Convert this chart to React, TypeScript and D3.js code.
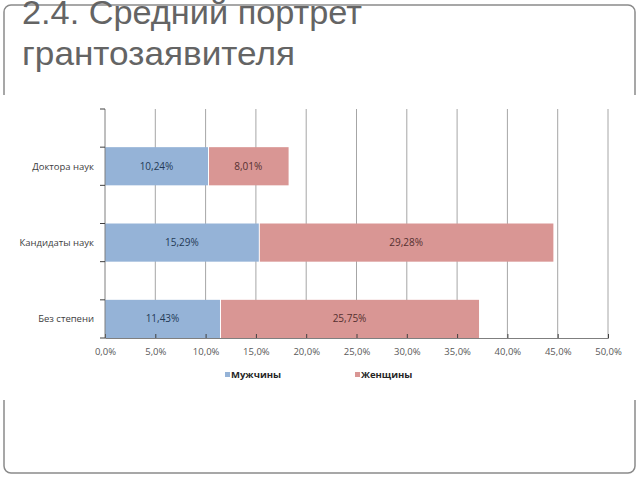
import React, { useEffect, useRef } from 'react';
import * as d3 from 'd3';

const categories = ['Доктора наук', 'Кандидаты наук', 'Без степени'];
const men = [10.24, 15.29, 11.43];
const women = [8.01, 29.28, 25.75];
const seriesNames = ['Мужчины', 'Женщины'];
const xTicks = [0, 5, 10, 15, 20, 25, 30, 35, 40, 45, 50];
const titleLines = ['2.4. Средний портрет', 'грантозаявителя'];

const fmt = (v: number) => v.toFixed(2).replace('.', ',') + '%';
const fmtTick = (v: number) => v.toFixed(1).replace('.', ',') + '%';

const App = () => {
    const ref = useRef<SVGSVGElement>(null);

    useEffect(() => {
        if (!ref.current) return;
        const svg = d3.select(ref.current);
        svg.selectAll('*').remove();

        const W = 640;
        const chartFont = '"Open Sans", "Liberation Sans", sans-serif';

        // slide frame
        svg.append('rect')
            .attr('x', 4).attr('y', 5)
            .attr('width', 631).attr('height', 468)
            .attr('rx', 7)
            .attr('fill', 'none')
            .attr('stroke', '#8a8a8a')
            .attr('stroke-width', 1.5);

        // title (top line is cut by the slide edge, like the original)
        const title = svg.append('text')
            .attr('font-family', '"Liberation Sans", Arial, sans-serif')
            .attr('font-size', 34)
            .attr('fill', '#646464');
        const titleY = [23.5, 64.5];
        const titleW = [340, 273];
        titleLines.forEach((t, i) => {
            title.append('tspan')
                .attr('x', 22).attr('y', titleY[i])
                .attr('textLength', titleW[i])
                .attr('lengthAdjust', 'spacingAndGlyphs')
                .text(t);
        });

        // chart image area (white, covers the frame)
        svg.append('rect')
            .attr('x', 0).attr('y', 95)
            .attr('width', W).attr('height', 305)
            .attr('fill', '#fff');

        const x = d3.scaleLinear().domain([0, 50]).range([105, 608]);
        const y = d3.scaleBand<string>()
            .domain(categories)
            .range([109, 338])
            .paddingInner(0.5)
            .paddingOuter(0.25)
            .align(1);

        // gridlines
        svg.append('g')
            .selectAll('line')
            .data(xTicks.slice(1))
            .enter().append('line')
            .attr('x1', d => x(d)).attr('x2', d => x(d))
            .attr('y1', 109).attr('y2', 338)
            .attr('stroke', '#a6a6a6')
            .attr('stroke-width', 1);

        // bars
        const rows = categories.map((c, i) => ({ c, m: men[i], w: women[i] }));
        const g = svg.append('g');
        g.selectAll('.men')
            .data(rows)
            .enter().append('rect')
            .attr('x', x(0))
            .attr('y', d => y(d.c)!)
            .attr('width', d => x(d.m) - x(0))
            .attr('height', y.bandwidth())
            .attr('fill', '#95b3d7');
        g.selectAll('.women')
            .data(rows)
            .enter().append('rect')
            .attr('x', d => x(d.m) + 1)
            .attr('y', d => y(d.c)!)
            .attr('width', d => x(d.m + d.w) - x(d.m) - 1)
            .attr('height', y.bandwidth())
            .attr('fill', '#d99694');

        // bar labels
        g.selectAll('.lm')
            .data(rows)
            .enter().append('text')
            .attr('x', d => (x(0) + x(d.m)) / 2)
            .attr('y', d => y(d.c)! + y.bandwidth() / 2)
            .attr('dy', '0.35em')
            .attr('text-anchor', 'middle')
            .attr('font-family', chartFont)
            .attr('font-size', 10)
            .attr('fill', '#243a56')
            .text(d => fmt(d.m));
        g.selectAll('.lw')
            .data(rows)
            .enter().append('text')
            .attr('x', d => (x(d.m) + x(d.m + d.w)) / 2)
            .attr('y', d => y(d.c)! + y.bandwidth() / 2)
            .attr('dy', '0.35em')
            .attr('text-anchor', 'middle')
            .attr('font-family', chartFont)
            .attr('font-size', 10)
            .attr('fill', '#553030')
            .text(d => fmt(d.w));

        // x axis
        const xAxis = svg.append('g')
            .attr('transform', 'translate(0,338)')
            .call(d3.axisBottom(x).tickValues(xTicks).tickSize(-4).tickPadding(10).tickFormat(d => fmtTick(+d)));
        xAxis.select('.domain').attr('stroke', '#7f7f7f');
        xAxis.selectAll('.tick line').attr('stroke', '#404040');
        xAxis.selectAll('text')
            .attr('font-family', chartFont)
            .attr('font-size', 9.5)
            .attr('fill', '#595959');

        // y axis
        const yLine = svg.append('g');
        yLine.append('line')
            .attr('x1', 105).attr('x2', 105)
            .attr('y1', 109).attr('y2', 338)
            .attr('stroke', '#7f7f7f');
        const yTickPos = [109, ...categories.flatMap(c => [y(c)!, y(c)! + y.bandwidth()])];
        yLine.selectAll('.yt')
            .data(yTickPos)
            .enter().append('line')
            .attr('x1', 100).attr('x2', 105)
            .attr('y1', d => d).attr('y2', d => d)
            .attr('stroke', '#404040');
        yLine.selectAll('.yl')
            .data(categories)
            .enter().append('text')
            .attr('x', 94)
            .attr('y', d => y(d)! + y.bandwidth() / 2)
            .attr('dy', '0.35em')
            .attr('text-anchor', 'end')
            .attr('font-family', chartFont)
            .attr('font-size', 9.5)
            .attr('fill', '#404040')
            .text(d => d);

        // legend
        const legendColors = ['#95b3d7', '#d99694'];
        const legendX = [225, 355];
        const lg = svg.append('g');
        seriesNames.forEach((name, i) => {
            lg.append('rect')
                .attr('x', legendX[i]).attr('y', 372)
                .attr('width', 5).attr('height', 5)
                .attr('fill', legendColors[i]);
            lg.append('text')
                .attr('x', legendX[i] + 6).attr('y', 375)
                .attr('dy', '0.35em')
                .attr('font-family', chartFont)
                .attr('font-size', 9.5)
                .attr('font-weight', 'bold')
                .attr('fill', '#262626')
                .text(name);
        });
    }, []);

    return <svg ref={ref} width={640} height={480} style={{ position: 'absolute', left: 0, top: 0 }} />;
};

export default App;
